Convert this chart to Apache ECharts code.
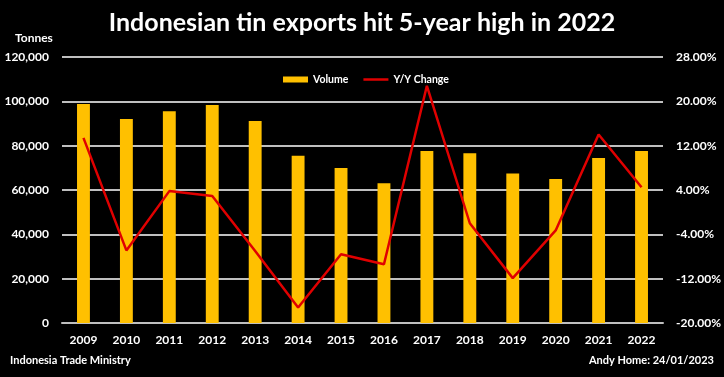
<!DOCTYPE html>
<html>
<head>
<meta charset="utf-8">
<title>Indonesian tin exports</title>
<script src="https://cdn.jsdelivr.net/npm/echarts@6/dist/echarts.min.js"></script>
<style>
  html, body { margin: 0; padding: 0; background: #000; }
  #main { width: 724px; height: 377px; }
</style>
</head>
<body>
<div id="main"></div>
<script>
  // values
  var years = ['2009', '2010', '2011', '2012', '2013', '2014', '2015', '2016', '2017', '2018', '2019', '2020', '2021', '2022']
  var volume = [98800, 92000, 95500, 98400, 91100, 75500, 69900, 63000, 77600, 76600, 67500, 65000, 74400, 77600]
  var yoyChange = [13.4, -6.9, 3.8, 2.9, -7.0, -17.2, -7.6, -9.4, 22.8, -2.0, -11.9, -3.3, 14.0, 4.5]

  var font = 'Lato'
  var gridColor = '#bfbfbf'

  var myChart = echarts.init(document.getElementById('main'))
  var option = {
    backgroundColor: '#000',
    textStyle: { fontFamily: font },
    title: [
      {
        text: 'Indonesian tin exports hit 5-year high in 2022',
        left: 'center',
        top: 5,
        textStyle: { color: '#fff', fontSize: 25, fontWeight: 'bold', fontFamily: font }
      },
      {
        text: 'Tonnes',
        left: 10,
        top: 27,
        textStyle: { color: '#fff', fontSize: 12, fontWeight: 'bold', fontFamily: font }
      },
      {
        text: 'Indonesia Trade Ministry',
        left: 5,
        top: 350,
        textStyle: { color: '#fff', fontSize: 11, fontWeight: 'bold', fontFamily: font }
      },
      {
        text: 'Andy Home: 24/01/2023',
        right: 5,
        top: 350,
        textStyle: { color: '#fff', fontSize: 11, fontWeight: 'bold', fontFamily: font }
      }
    ],
    legend: {
      top: 69,
      left: 278,
      itemGap: 15,
      itemWidth: 25,
      itemHeight: 6,
      textStyle: { color: '#fff', fontSize: 10.5, fontWeight: 'bold', fontFamily: font },
      data: [
        { name: 'Volume', icon: 'rect' },
        { name: 'Y/Y Change', icon: 'path://M0,0 L25,0 L25,2.5 L0,2.5 Z' }
      ]
    },
    grid: { left: 62, right: 57, top: 57, bottom: 54 },
    xAxis: {
      type: 'category',
      data: years,
      axisLine: { lineStyle: { color: gridColor, width: 2 } },
      axisTick: { show: false },
      axisLabel: { color: '#fff', fontSize: 12, fontWeight: 'bold', margin: 11 }
    },
    yAxis: [
      {
        type: 'value',
        min: 0,
        max: 120000,
        interval: 20000,
        axisLine: { show: false },
        axisTick: { show: false },
        splitLine: { lineStyle: { color: gridColor, width: 2 } },
        axisLabel: {
          color: '#fff', fontSize: 12, fontWeight: 'bold', margin: 13,
          formatter: function (v) { return v.toLocaleString('en-US') }
        }
      },
      {
        type: 'value',
        min: -20,
        max: 28,
        interval: 8,
        axisLine: { show: false },
        axisTick: { show: false },
        splitLine: { show: false },
        axisLabel: {
          color: '#fff', fontSize: 12, fontWeight: 'bold', margin: 13,
          formatter: function (v) { return v.toFixed(2) + '%' }
        }
      }
    ],
    series: [
      {
        name: 'Volume',
        type: 'bar',
        data: volume,
        barWidth: '30%',
        itemStyle: { color: '#FFC000' }
      },
      {
        name: 'Y/Y Change',
        type: 'line',
        yAxisIndex: 1,
        data: yoyChange,
        showSymbol: false,
        symbol: 'none',
        lineStyle: { color: '#e00000', width: 2.5 },
        itemStyle: { color: '#e00000' }
      }
    ]
  }
  myChart.setOption(option)
</script>
</body>
</html>
